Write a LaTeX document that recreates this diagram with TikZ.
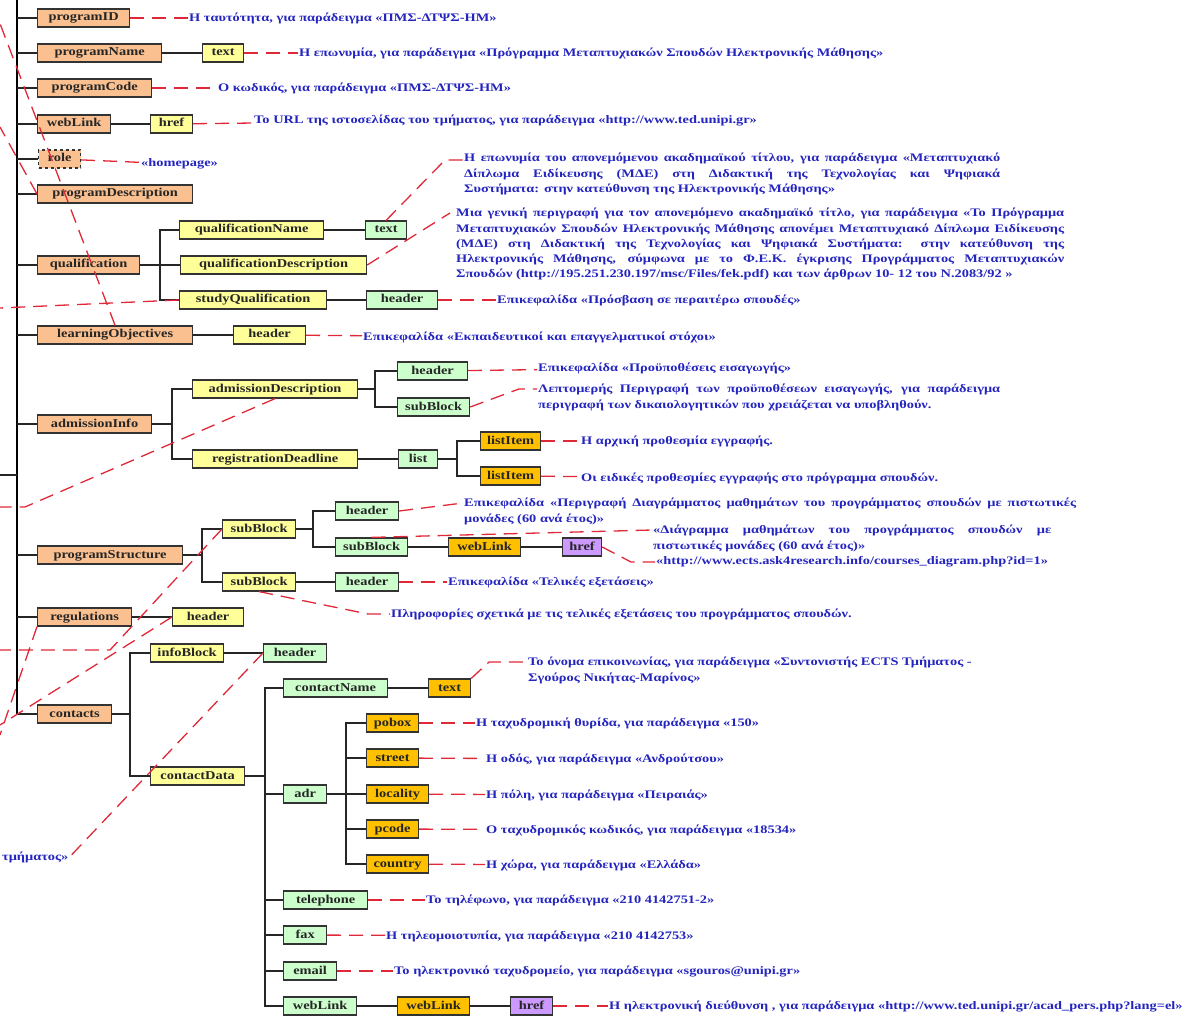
\documentclass[tikz,border=0pt]{standalone}
\usepackage{fontspec}
\setmainfont{Liberation Serif}
\newfontfamily\boxfont{Liberation Serif}[FakeStretch=1.2]
\newfontfamily\notefont{Liberation Serif}[FakeStretch=1.25]
\usetikzlibrary{calc}

\definecolor{peach}{RGB}{250,192,143}
\definecolor{paleyellow}{RGB}{255,255,153}
\definecolor{palegreen}{RGB}{204,255,204}
\definecolor{gold}{RGB}{255,192,0}
\definecolor{lilac}{RGB}{204,153,255}
\definecolor{noteblue}{RGB}{36,36,190}
\definecolor{calloutred}{RGB}{224,40,56}

\begin{document}
\begin{tikzpicture}[x=1pt, y=-1pt,
	elem/.style={draw=black!80, line width=1.2pt, inner sep=0pt, minimum height=18pt, anchor=west,
		text height=8.5pt, text depth=2.5pt, text=black!85, font=\boxfont\bfseries\fontsize{12}{12}\selectfont},
	lvlone/.style={elem, fill=peach},
	lvltwo/.style={elem, fill=paleyellow},
	lvlthree/.style={elem, fill=palegreen},
	lvlfour/.style={elem, fill=gold},
	lvllink/.style={elem, fill=lilac},
	conn/.style={draw=black!85, line width=1.2pt},
	trunk/.style={draw=black, line width=2.2pt},
	callout/.style={draw=calloutred, line width=1.3pt, dash pattern=on 14pt off 8pt},
	note/.style={anchor=west, inner sep=1pt, text=noteblue, font=\notefont\bfseries\fontsize{11.5}{15.3}\selectfont},
	longnote/.style={note, anchor=north west, align=justify}]
	\useasboundingbox (0,0) rectangle (1192,1016);
	\clip (0,0) rectangle (1192,1016);

	% First level
	\node[lvlone, minimum width=92pt] (progID) at (37,18) {programID};
	\node[lvlone, minimum width=124pt] (progName) at (37,53) {programName};
	\node[lvlone, minimum width=114pt] (progCode) at (37,88) {programCode};
	\node[lvlone, minimum width=73pt] (webLink) at (37,124) {webLink};
	\node[lvlone, minimum width=42pt, dashed] (role) at (38,159) {role};
	\node[lvlone, minimum width=155pt] (progDesc) at (37,194) {programDescription};
	\node[lvlone, minimum width=102pt] (qual) at (37,265) {qualification};
	\node[lvlone, minimum width=155pt] (learnObj) at (37,335) {learningObjectives};
	\node[lvlone, minimum width=114pt] (admInfo) at (37,424) {admissionInfo};
	\node[lvlone, minimum width=145pt] (progStruct) at (37,555) {programStructure};
	\node[lvlone, minimum width=94pt] (regul) at (37,617) {regulations};
	\node[lvlone, minimum width=74pt] (contacts) at (37,714) {contacts};

	% Trunk
	\coordinate (rootTop) at (17,-5);
	\coordinate (rootStub) at (0,475);
	\draw[trunk] (rootTop) -- (rootTop |- contacts.west);
	\draw[conn] (rootStub) -- (rootTop |- rootStub);
	\foreach \n in {progID,progName,progCode,webLink,role,progDesc,qual,learnObj,admInfo,progStruct,regul,contacts}
		\draw[conn] (rootTop |- \n.west) -- (\n.west);

	% Second level
	\node[lvltwo, minimum width=41pt] (pnText) at (202,53) {text};
	\node[lvltwo, minimum width=42pt] (wlHref) at (150,124) {href};
	\node[lvltwo, minimum width=144pt] (qName) at (179,230) {qualificationName};
	\node[lvltwo, minimum width=186pt] (qDesc) at (180,265) {qualificationDescription};
	\node[lvltwo, minimum width=147pt] (sQual) at (179,300) {studyQualification};
	\node[lvltwo, minimum width=72pt] (loHeader) at (233,335) {header};
	\node[lvltwo, minimum width=165pt] (admDesc) at (192,389) {admissionDescription};
	\node[lvltwo, minimum width=165pt] (regDead) at (192,459) {registrationDeadline};
	\node[lvltwo, minimum width=73pt] (sbOne) at (222,529) {subBlock};
	\node[lvltwo, minimum width=73pt] (sbTwo) at (222,582) {subBlock};
	\node[lvltwo, minimum width=71pt] (regHeader) at (172,617) {header};
	\node[lvltwo, minimum width=73pt] (infoBlock) at (150,653) {infoBlock};
	\node[lvltwo, minimum width=94pt] (contData) at (150,776) {contactData};

	% Third level
	\node[lvlthree, minimum width=41pt] (qnText) at (365,230) {text};
	\node[lvlthree, minimum width=71pt] (sqHeader) at (366,300) {header};
	\node[lvlthree, minimum width=70pt] (adHeader) at (397,371) {header};
	\node[lvlthree, minimum width=72pt] (adSub) at (397,407) {subBlock};
	\node[lvlthree, minimum width=39pt] (rdList) at (398,459) {list};
	\node[lvlthree, minimum width=63pt] (sbHeader) at (335,511) {header};
	\node[lvlthree, minimum width=72pt] (sbSub) at (335,547) {subBlock};
	\node[lvlthree, minimum width=63pt] (sbTwoHeader) at (335,582) {header};
	\node[lvlthree, minimum width=63pt] (ibHeader) at (263,653) {header};
	\node[lvlthree, minimum width=104pt] (cName) at (283,688) {contactName};
	\node[lvlthree, minimum width=43pt] (adr) at (283,794) {adr};
	\node[lvlthree, minimum width=84pt] (tel) at (283,900) {telephone};
	\node[lvlthree, minimum width=43pt] (fax) at (283,935) {fax};
	\node[lvlthree, minimum width=53pt] (email) at (283,971) {email};
	\node[lvlthree, minimum width=73pt] (cWeb) at (283,1006) {webLink};

	% Fourth level
	\node[lvlfour, minimum width=60pt] (liOne) at (480,441) {listItem};
	\node[lvlfour, minimum width=60pt] (liTwo) at (480,476) {listItem};
	\node[lvlfour, minimum width=72pt] (sbWeb) at (448,547) {webLink};
	\node[lvllink, minimum width=39pt] (sbHref) at (562,547) {href};
	\node[lvlfour, minimum width=42pt] (cnText) at (428,688) {text};
	\node[lvlfour, minimum width=52pt] (pobox) at (366,723) {pobox};
	\node[lvlfour, minimum width=52pt] (street) at (366,758) {street};
	\node[lvlfour, minimum width=62pt] (locality) at (366,794) {locality};
	\node[lvlfour, minimum width=52pt] (pcode) at (366,829) {pcode};
	\node[lvlfour, minimum width=62pt] (country) at (366,864) {country};
	\node[lvlfour, minimum width=72pt] (cwWeb) at (397,1006) {webLink};
	\node[lvllink, minimum width=42pt] (cwHref) at (510,1006) {href};

	% Straight links
	\draw[conn] (progName) -- (pnText);
	\draw[conn] (webLink) -- (wlHref);
	\draw[conn] (qName) -- (qnText);
	\draw[conn] (sQual) -- (sqHeader);
	\draw[conn] (learnObj) -- (loHeader);
	\draw[conn] (regDead) -- (rdList);
	\draw[conn] (sbSub) -- (sbWeb) -- (sbHref);
	\draw[conn] (sbTwo) -- (sbTwoHeader);
	\draw[conn] (regul) -- (regHeader);
	\draw[conn] (infoBlock) -- (ibHeader);
	\draw[conn] (cName) -- (cnText);
	\draw[conn] (cWeb) -- (cwWeb) -- (cwHref);

	% Branching links
	\coordinate (qualBus) at (160,265);
	\coordinate (admBus) at (172,424);
	\coordinate (adDescBus) at (375,389);
	\coordinate (listBus) at (457,459);
	\coordinate (psBus) at (202,555);
	\coordinate (sbOneBus) at (313,529);
	\coordinate (ctBus) at (130,714);
	\coordinate (cdBus) at (265,776);
	\coordinate (adrBus) at (346,794);
	\draw[conn] (qual) -- (qualBus);
	\foreach \c in {qName,qDesc,sQual} \draw[conn] (qualBus) |- (\c.west);
	\draw[conn] (admInfo) -- (admBus);
	\foreach \c in {admDesc,regDead} \draw[conn] (admBus) |- (\c.west);
	\draw[conn] (admDesc) -- (adDescBus);
	\foreach \c in {adHeader,adSub} \draw[conn] (adDescBus) |- (\c.west);
	\draw[conn] (rdList) -- (listBus);
	\foreach \c in {liOne,liTwo} \draw[conn] (listBus) |- (\c.west);
	\draw[conn] (progStruct) -- (psBus);
	\foreach \c in {sbOne,sbTwo} \draw[conn] (psBus) |- (\c.west);
	\draw[conn] (sbOne) -- (sbOneBus);
	\foreach \c in {sbHeader,sbSub} \draw[conn] (sbOneBus) |- (\c.west);
	\draw[conn] (contacts) -- (ctBus);
	\foreach \c in {infoBlock,contData} \draw[conn] (ctBus) |- (\c.west);
	\draw[conn] (contData) -- (cdBus);
	\foreach \c in {cName,adr,tel,fax,email,cWeb} \draw[conn] (cdBus) |- (\c.west);
	\draw[conn] (adr) -- (adrBus);
	\foreach \c in {pobox,street,locality,pcode,country} \draw[conn] (adrBus) |- (\c.west);

	% Notes
	\node[note] (nProgID) at (188,18) {Η ταυτότητα, για παράδειγμα «ΠΜΣ-ΔΤΨΣ-ΗΜ»};
	\node[note] (nProgName) at (298,53) {Η επωνυμία, για παράδειγμα «Πρόγραμμα Μεταπτυχιακών Σπουδών Ηλεκτρονικής Μάθησης»};
	\node[note] (nProgCode) at (217,88) {Ο κωδικός, για παράδειγμα «ΠΜΣ-ΔΤΨΣ-ΗΜ»};
	\node[note] (nWebLink) at (253,120) {Το URL της ιστοσελίδας του τμήματος, για παράδειγμα «http://www.ted.unipi.gr»};
	\node[note] (nRole) at (140,164) {«homepage»};
	\node[longnote, text width=536pt] (nQName) at (463,152) {Η επωνυμία του απονεμόμενου ακαδημαϊκού τίτλου, για παράδειγμα «Μεταπτυχιακό\linebreak Δίπλωμα Ειδίκευσης (ΜΔΕ) στη Διδακτική της Τεχνολογίας και Ψηφιακά\linebreak Συστήματα: στην κατεύθυνση της Ηλεκτρονικής Μάθησης»};
	\node[longnote, text width=608pt] (nQDesc) at (455,207) {Μια γενική περιγραφή για τον απονεμόμενο ακαδημαϊκό τίτλο, για παράδειγμα «Το Πρόγραμμα\linebreak Μεταπτυχιακών Σπουδών Ηλεκτρονικής Μάθησης απονέμει Μεταπτυχιακό Δίπλωμα Ειδίκευσης\linebreak (ΜΔΕ) στη Διδακτική της Τεχνολογίας και Ψηφιακά Συστήματα: στην κατεύθυνση της\linebreak Ηλεκτρονικής Μάθησης, σύμφωνα με το Φ.Ε.Κ. έγκρισης Προγράμματος Μεταπτυχιακών\linebreak Σπουδών (http://195.251.230.197/msc/Files/fek.pdf) και των άρθρων 10- 12 του Ν.2083/92 »};
	\node[note] (nSQual) at (496,300) {Επικεφαλίδα «Πρόσβαση σε περαιτέρω σπουδές»};
	\node[note] (nLO) at (362,337) {Επικεφαλίδα «Εκπαιδευτικοί και επαγγελματικοί στόχοι»};
	\node[note] (nAdHeader) at (537,368) {Επικεφαλίδα «Προϋποθέσεις εισαγωγής»};
	\node[longnote, text width=462pt] (nAdSub) at (537,383) {Λεπτομερής Περιγραφή των προϋποθέσεων εισαγωγής, για παράδειγμα\linebreak περιγραφή των δικαιολογητικών που χρειάζεται να υποβληθούν.};
	\node[note] (nLiOne) at (580,441) {Η αρχική προθεσμία εγγραφής.};
	\node[note] (nLiTwo) at (580,478) {Οι ειδικές προθεσμίες εγγραφής στο πρόγραμμα σπουδών.};
	\node[longnote, text width=612pt] (nSbHeader) at (463,497) {Επικεφαλίδα «Περιγραφή Διαγράμματος μαθημάτων του προγράμματος σπουδών με πιστωτικές\linebreak μονάδες (60 ανά έτος)»};
	\node[longnote, text width=398pt] (nSbSub) at (652,524) {«Διάγραμμα μαθημάτων του προγράμματος σπουδών με\linebreak πιστωτικές μονάδες (60 ανά έτος)»};
	\node[note] (nSbHref) at (655,562) {«http://www.ects.ask4research.info/courses\_diagram.php?id=1»};
	\node[note] (nSbTwoHeader) at (447,582) {Επικεφαλίδα «Τελικές εξετάσεις»};
	\node[note] (nSbTwo) at (390,614) {Πληροφορίες σχετικά με τις τελικές εξετάσεις του προγράμματος σπουδών.};
	\node[longnote, align=left] (nCName) at (527,656) {Το όνομα επικοινωνίας, για παράδειγμα «Συντονιστής ECTS Τμήματος -\\ Σγούρος Νικήτας-Μαρίνος»};
	\node[note] (nPobox) at (475,723) {Η ταχυδρομική θυρίδα, για παράδειγμα «150»};
	\node[note] (nStreet) at (485,759) {Η οδός, για παράδειγμα «Ανδρούτσου»};
	\node[note] (nLocality) at (485,795) {Η πόλη, για παράδειγμα «Πειραιάς»};
	\node[note] (nPcode) at (485,830) {Ο ταχυδρομικός κωδικός, για παράδειγμα «18534»};
	\node[note] (nCountry) at (485,865) {Η χώρα, για παράδειγμα «Ελλάδα»};
	\node[note] (nTel) at (425,900) {Το τηλέφωνο, για παράδειγμα «210 4142751-2»};
	\node[note] (nFax) at (385,936) {Η τηλεομοιοτυπία, για παράδειγμα «210 4142753»};
	\node[note] (nEmail) at (393,971) {Το ηλεκτρονικό ταχυδρομείο, για παράδειγμα «sgouros@unipi.gr»};
	\node[note] (nCwHref) at (608,1006) {Η ηλεκτρονική διεύθυνση , για παράδειγμα «http://www.ted.unipi.gr/acad\_pers.php?lang=el»};
	\node[note] (nLeft) at (1,857) {τμήματος»};

	% Callouts
	\draw[callout] (progID) -- (nProgID);
	\draw[callout] (pnText) -- (nProgName);
	\draw[callout] (progCode) -- (nProgCode);
	\draw[callout] (wlHref) -- (nWebLink);
	\draw[callout] (role) -- (nRole);
	\coordinate (qnBend) at ($(nQName.north west)+(-18,8)$);
	\draw[callout] (qnText.north) -- (qnBend) -- (qnBend -| nQName.west);
	\coordinate (qdBend) at ($(nQDesc.north west)+(-5,6)$);
	\draw[callout] (qDesc.east) -- (qdBend);
	\draw[callout] (sqHeader) -- (nSQual);
	\draw[callout] (loHeader) -- (nLO);
	\draw[callout] (adHeader) -- (nAdHeader);
	\coordinate (asBend) at ($(nAdSub.north west)+(-18,6)$);
	\draw[callout] (adSub.east) -- (asBend) -- (asBend -| nAdSub.west);
	\draw[callout] (liOne) -- (nLiOne);
	\draw[callout] (liTwo) -- (nLiTwo);
	\draw[callout] (sbHeader.east) -- ($(nSbHeader.north west)+(0,6)$);
	\draw[callout] (sbSub.north) -- ($(nSbSub.north west)+(0,6)$);
	\coordinate (hrefBend) at ($(nSbHref.west)+(-24,0)$);
	\draw[callout] (sbHref.east) -- (hrefBend) -- (nSbHref.west);
	\draw[callout] (sbTwoHeader) -- (nSbTwoHeader);
	\coordinate (sbTwoBend) at ($(nSbTwo.west)+(-22,0)$);
	\draw[callout] (sbTwo.south) -- (sbTwoBend) -- (nSbTwo.west);
	\coordinate (cnBend) at ($(nCName.north west)+(-38,6)$);
	\draw[callout] (cnText.north east) -- (cnBend) -- (cnBend -| nCName.west);
	\foreach \a/\b in {pobox/nPobox,street/nStreet,locality/nLocality,pcode/nPcode,country/nCountry,tel/nTel,fax/nFax,email/nEmail,cwHref/nCwHref}
		\draw[callout] (\a) -- (\b);

	% Callouts from outside the picture
	\coordinate (edgeA) at (-9,0);
	\coordinate (edgeB) at (0,127);
	\coordinate (edgeC) at (0,308);
	\coordinate (bendD) at (25,507);
	\coordinate (edgeD) at (0,507);
	\coordinate (bendE) at (110,650);
	\coordinate (edgeE) at (0,650);
	\coordinate (edgeF) at (0,725);
	\coordinate (edgeG) at (0,735);
	\draw[callout] (learnObj.north) -- (edgeA);
	\draw[callout] (progDesc.west) -- (edgeB);
	\draw[callout] (sQual.west) -- (edgeC);
	\draw[callout] (admDesc.south) -- (bendD) -- (edgeD);
	\draw[callout] (sbOne.west) -- (bendE) -- (edgeE);
	\draw[callout] (regHeader.west) -- (edgeF);
	\draw[callout] (regul.south west) -- (edgeG);
	\draw[callout] (ibHeader.west) -- (nLeft.east);
\end{tikzpicture}
\end{document}
